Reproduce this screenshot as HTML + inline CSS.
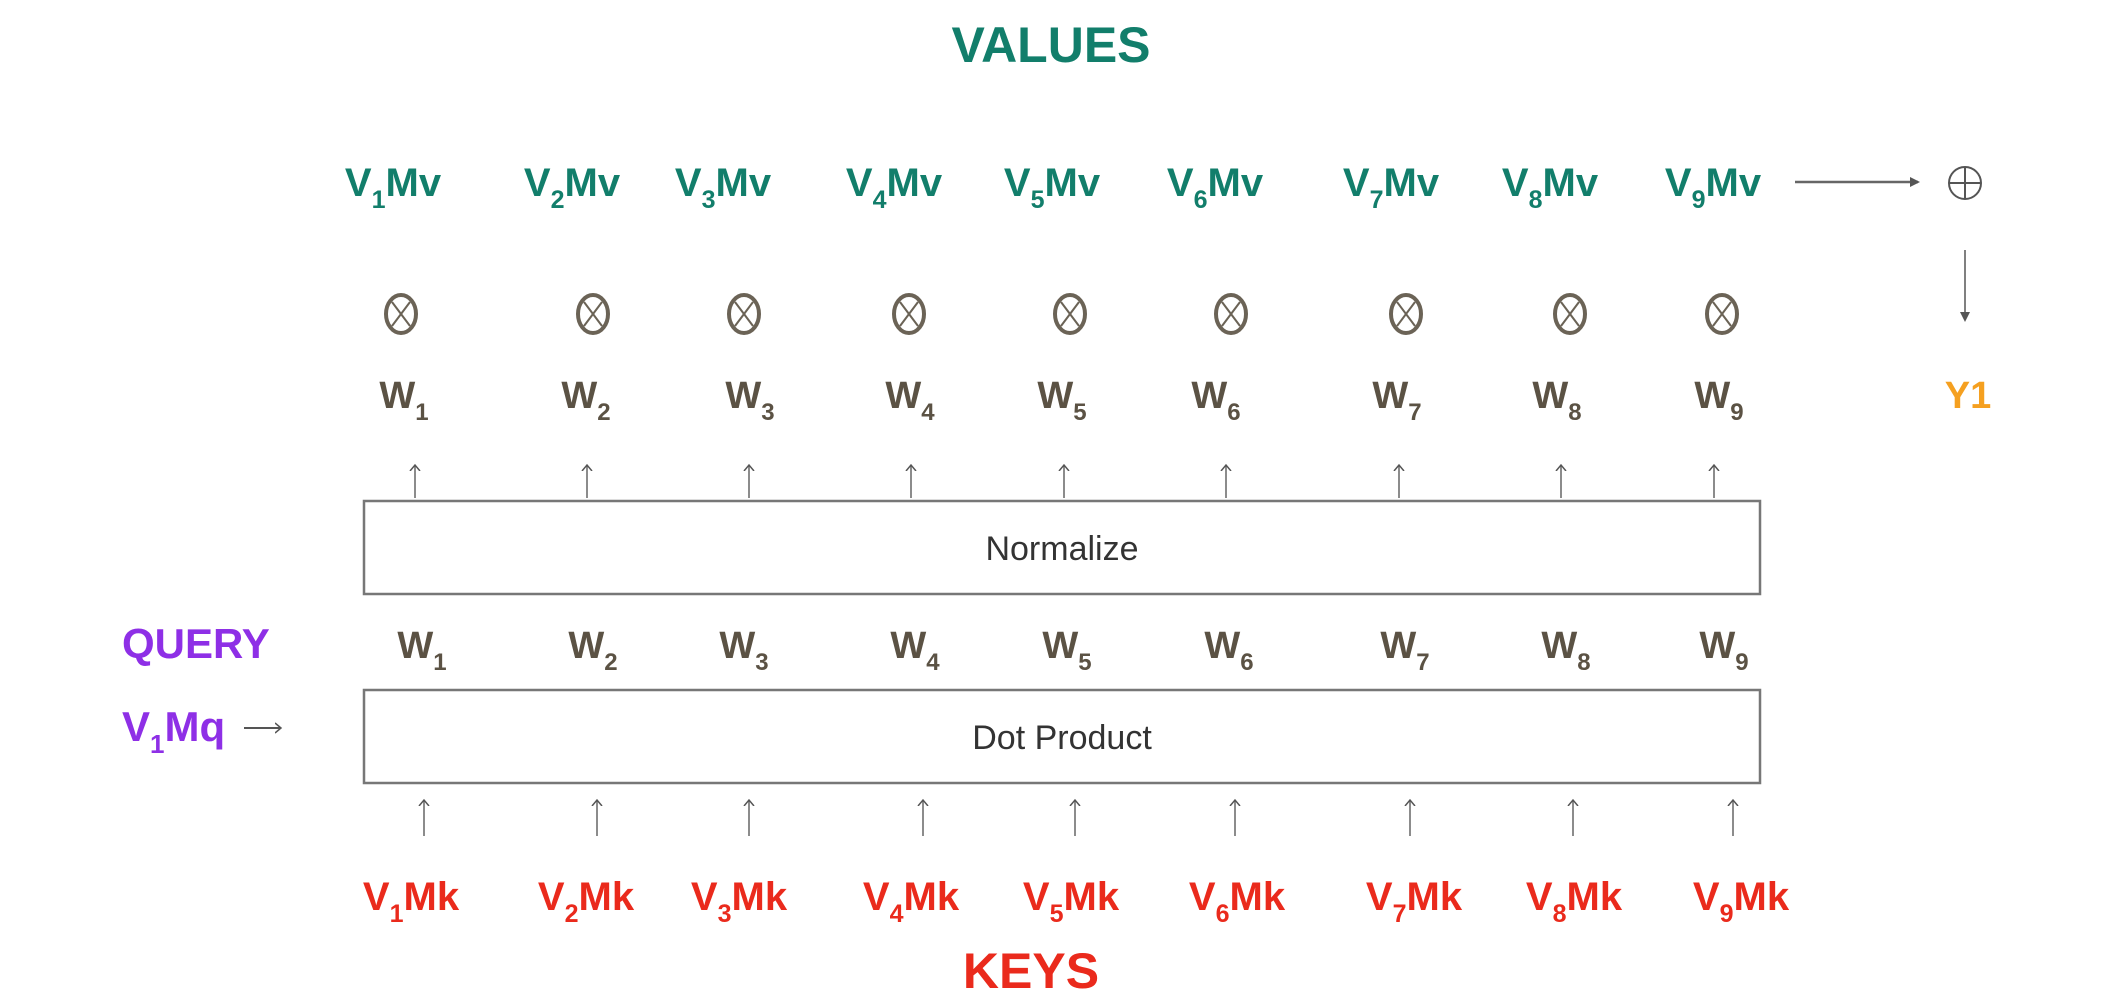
<!DOCTYPE html>
<html><head><meta charset="utf-8"><style>
html,body{margin:0;padding:0;background:#fff;width:2126px;height:992px;overflow:hidden}
svg{display:block}
text{font-family:"Liberation Sans",sans-serif}
</style></head><body>
<svg id="d" width="2126" height="992" viewBox="0 0 2126 992">
<defs>
<marker id="ah" markerWidth="10" markerHeight="10" refX="8" refY="5" orient="auto" markerUnits="userSpaceOnUse"><path d="M0,0 L10,5 L0,10 z" fill="#555"/></marker>
<marker id="as" markerWidth="12" markerHeight="12" refX="6" refY="6" orient="auto" markerUnits="userSpaceOnUse"><path d="M0,1 L6,6 L0,11" fill="none" stroke="#555" stroke-width="1.5"/></marker>
</defs>
<text x="1051" y="62" text-anchor="middle" font-size="50" font-weight="bold" fill="#127e6b">VALUES</text>
<text x="1031" y="988" text-anchor="middle" font-size="50" font-weight="bold" fill="#ea2a1c">KEYS</text>
<text x="122" y="658" font-size="42" font-weight="bold" fill="#8e2fe6">QUERY</text>
<text x="122" y="741" font-size="42" font-weight="bold" fill="#8e2fe6">V<tspan font-size="26" dy="12">1</tspan><tspan dy="-12">Mq</tspan></text>
<line x1="244" y1="728" x2="281" y2="728" stroke="#555" stroke-width="2" marker-end="url(#as)"/>
<rect x="364" y="501" width="1396" height="93" fill="#fff" stroke="#777" stroke-width="2.5"/>
<text x="1062" y="560" text-anchor="middle" font-size="34" fill="#333">Normalize</text>
<rect x="364" y="690" width="1396" height="93" fill="#fff" stroke="#777" stroke-width="2.5"/>
<text x="1062" y="749" text-anchor="middle" font-size="34" fill="#333">Dot Product</text>
<line x1="1795" y1="182" x2="1918" y2="182" stroke="#666" stroke-width="2.5" marker-end="url(#ah)"/>
<g><circle cx="1965" cy="183" r="16" fill="none" stroke="#555" stroke-width="2"/><line x1="1949" y1="183" x2="1981" y2="183" stroke="#555" stroke-width="2"/><line x1="1965" y1="167" x2="1965" y2="199" stroke="#555" stroke-width="2"/></g>
<line x1="1965" y1="250" x2="1965" y2="320" stroke="#555" stroke-width="1.5" marker-end="url(#ah)"/>
<text x="1968" y="408" text-anchor="middle" font-size="38" font-weight="bold" fill="#f5a020">Y1</text>
<g id="cols"></g>
</svg>
<script>
const idx = [1,2,3,4,5,6,7,8,9];
const mvX = [393,572,723,894,1052,1215,1391,1550,1713];
const mulX = [401,593,744,909,1070,1231,1406,1570,1722];
const wTopX = [404,586,750,910,1062,1216,1397,1557,1719];
const upTopX = [415,587,749,911,1064,1226,1399,1561,1714];
const wBotX = [422,593,744,915,1067,1229,1405,1566,1724];
const upBotX = [424,597,749,923,1075,1235,1410,1573,1733];
const mkX = [411,586,739,911,1071,1237,1414,1574,1741];
const NS = "http://www.w3.org/2000/svg";
const g = document.getElementById('cols');
function mk(tag, attrs){const e=document.createElementNS(NS,tag);for(const k in attrs)e.setAttribute(k,attrs[k]);g.appendChild(e);return e;}
function sub(x,y,main,n,rest,size,color){
  const t=mk('text',{x:x,y:y,'text-anchor':'middle','font-size':size,'font-weight':'bold',fill:color});
  t.innerHTML=main+'<tspan font-size="'+Math.round(size*0.62)+'" dy="12">'+n+'</tspan>'+(rest?'<tspan dy="-12">'+rest+'</tspan>':'');
  return t;
}
idx.forEach((n,i)=>{
  let t=sub(mvX[i],196,'V',n,'Mv',40,'#127e6b');
  
  
  const c=mk('g',{});
  
  
  const e1=document.createElementNS(NS,'ellipse');
  [['cx',mulX[i]],['cy',314],['rx',15],['ry',19],['fill','none'],['stroke','#6b6356'],['stroke-width',4]].forEach(a=>e1.setAttribute(a[0],a[1]));
  c.appendChild(e1);
  [[-9,-12,9,12],[9,-12,-9,12]].forEach(d=>{const l=document.createElementNS(NS,'line');l.setAttribute('x1',mulX[i]+d[0]);l.setAttribute('y1',314+d[1]);l.setAttribute('x2',mulX[i]+d[2]);l.setAttribute('y2',314+d[3]);l.setAttribute('stroke','#6b6356');l.setAttribute('stroke-width',2);c.appendChild(l);});
  t=sub(wTopX[i],408,'W',n,'',38,'#5b5244');
  
  
  let a=mk('line',{x1:upTopX[i],y1:498,x2:upTopX[i],y2:465,stroke:'#666','stroke-width':1.5,'marker-end':'url(#as)'});
  
  
  t=sub(wBotX[i],658,'W',n,'',38,'#5b5244');
  
  
  a=mk('line',{x1:upBotX[i],y1:836,x2:upBotX[i],y2:800,stroke:'#666','stroke-width':1.5,'marker-end':'url(#as)'});
  
  
  t=sub(mkX[i],910,'V',n,'Mk',40,'#ea2a1c');
  
  
});
</script>
</body></html>
